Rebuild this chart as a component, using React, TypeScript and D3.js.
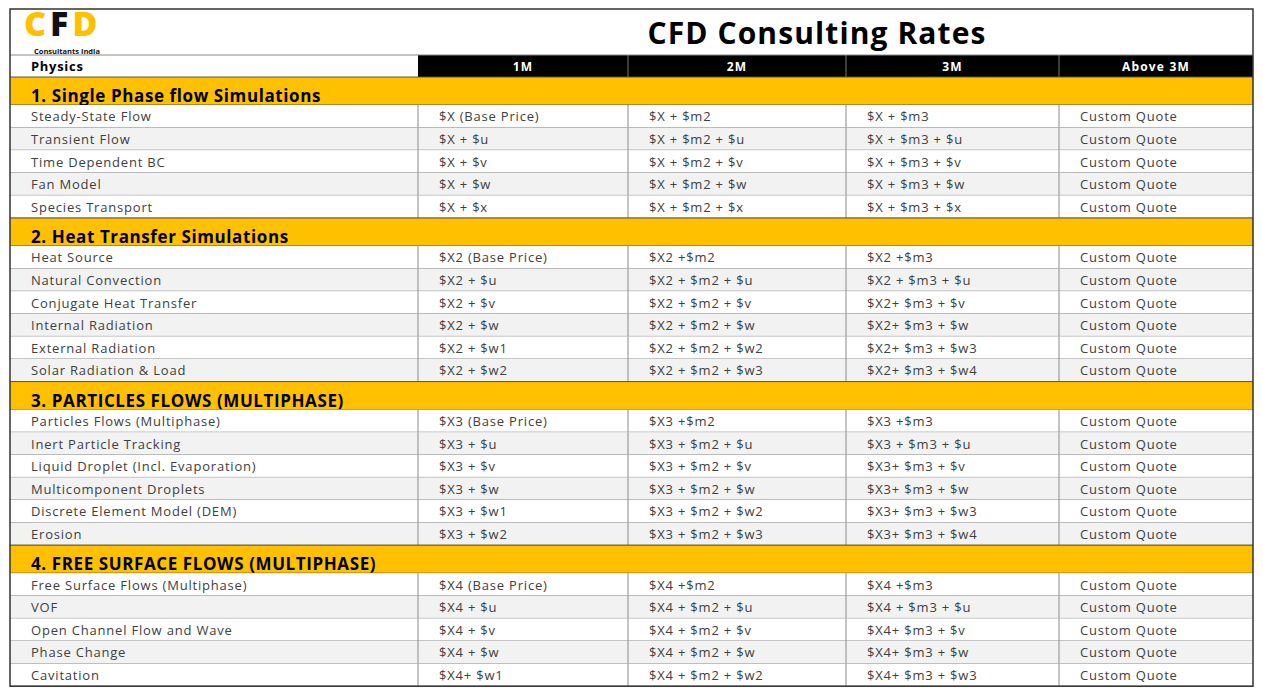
import React from "react";
import * as d3 from "d3";

const title = "CFD Consulting Rates";
const columns = ["Physics", "1M", "2M", "3M", "Above 3M"];

const sections = [
  "1. Single Phase flow Simulations",
  "2. Heat Transfer Simulations",
  "3. PARTICLES FLOWS (MULTIPHASE)",
  "4. FREE SURFACE FLOWS (MULTIPHASE)",
];

const sec1 = [
  ["Steady-State Flow", "$X (Base Price)", "$X + $m2", "$X + $m3", "Custom Quote"],
  ["Transient Flow", "$X + $u", "$X + $m2 + $u", "$X + $m3 + $u", "Custom Quote"],
  ["Time Dependent BC", "$X + $v", "$X + $m2 + $v", "$X + $m3 + $v", "Custom Quote"],
  ["Fan Model", "$X + $w", "$X + $m2 + $w", "$X + $m3 + $w", "Custom Quote"],
  ["Species Transport", "$X + $x", "$X + $m2 + $x", "$X + $m3 + $x", "Custom Quote"],
];
const sec2 = [
  ["Heat Source", "$X2 (Base Price)", "$X2 +$m2", "$X2 +$m3", "Custom Quote"],
  ["Natural Convection", "$X2 + $u", "$X2 + $m2 + $u", "$X2 + $m3 + $u", "Custom Quote"],
  ["Conjugate Heat Transfer", "$X2 + $v", "$X2 + $m2 + $v", "$X2+ $m3 + $v", "Custom Quote"],
  ["Internal Radiation", "$X2 + $w", "$X2 + $m2 + $w", "$X2+ $m3 + $w", "Custom Quote"],
  ["External Radiation", "$X2 + $w1", "$X2 + $m2 + $w2", "$X2+ $m3 + $w3", "Custom Quote"],
  ["Solar Radiation & Load", "$X2 + $w2", "$X2 + $m2 + $w3", "$X2+ $m3 + $w4", "Custom Quote"],
];
const sec3 = [
  ["Particles Flows (Multiphase)", "$X3 (Base Price)", "$X3 +$m2", "$X3 +$m3", "Custom Quote"],
  ["Inert Particle Tracking", "$X3 + $u", "$X3 + $m2 + $u", "$X3 + $m3 + $u", "Custom Quote"],
  ["Liquid Droplet (Incl. Evaporation)", "$X3 + $v", "$X3 + $m2 + $v", "$X3+ $m3 + $v", "Custom Quote"],
  ["Multicomponent Droplets", "$X3 + $w", "$X3 + $m2 + $w", "$X3+ $m3 + $w", "Custom Quote"],
  ["Discrete Element Model (DEM)", "$X3 + $w1", "$X3 + $m2 + $w2", "$X3+ $m3 + $w3", "Custom Quote"],
  ["Erosion", "$X3 + $w2", "$X3 + $m2 + $w3", "$X3+ $m3 + $w4", "Custom Quote"],
];
const sec4 = [
  ["Free Surface Flows (Multiphase)", "$X4 (Base Price)", "$X4 +$m2", "$X4 +$m3", "Custom Quote"],
  ["VOF", "$X4 + $u", "$X4 + $m2 + $u", "$X4 + $m3 + $u", "Custom Quote"],
  ["Open Channel Flow and Wave", "$X4 + $v", "$X4 + $m2 + $v", "$X4+ $m3 + $v", "Custom Quote"],
  ["Phase Change", "$X4 + $w", "$X4 + $m2 + $w", "$X4+ $m3 + $w", "Custom Quote"],
  ["Cavitation", "$X4+ $w1", "$X4 + $m2 + $w2", "$X4+ $m3 + $w3", "Custom Quote"],
];
const sectionRows = [sec1, sec2, sec3, sec4];

// layout
const W = 1263, H = 700;
const left = 10, right = 1253, top = 9;
const titleH = 46, headH = 22;
const secH = 28, rowH = 22.6;
const colWeights = [408, 210, 218, 213, 194];
const gold = "#FFC000";
const font = "'Open Sans', 'DejaVu Sans', sans-serif";

export default function App() {
  const edges = [left];
  colWeights.forEach((w) => edges.push(edges[edges.length - 1] + w));
  const xs = d3.scaleLinear().domain([left, edges[edges.length - 1]]).range([left, right]);
  const colX = edges.map((e) => xs(e));

  type Item = { kind: "sec" | "row"; label?: string; cells?: string[]; alt?: boolean; y: number; h: number };
  const items: Item[] = [];
  let y = top + titleH + headH;
  sections.forEach((s, i) => {
    items.push({ kind: "sec", label: s, y, h: secH });
    y += secH;
    sectionRows[i].forEach((r, j) => {
      items.push({ kind: "row", cells: r, alt: j % 2 === 1, y, h: rowH });
      y += rowH;
    });
  });
  const bottom = y;

  return (
    <svg width={W} height={H} style={{ display: "block", position: "absolute", left: 0, top: 0, background: "#fff" }}>
      <rect x={0} y={0} width={W} height={H} fill="#fff" />
      {/* logo */}
      <text x={24} y={36} fontFamily={font} fontWeight={800} fontSize={34} letterSpacing={4}>
        <tspan fill={gold}>C</tspan>
        <tspan fill="#111">F</tspan>
        <tspan fill={gold}>D</tspan>
      </text>
      <text x={34} y={54} fontFamily={font} fontWeight={700} fontSize={7.5} fill="#111">Consultants India</text>
      {/* title */}
      <text x={817} y={44} textAnchor="middle" fontFamily={font} fontWeight={700} fontSize={30} letterSpacing={1.1} fill="#000">{title}</text>

      {/* header row */}
      <rect x={colX[1]} y={top + titleH} width={right - colX[1]} height={headH} fill="#000" />
      {columns.map((c, i) =>
        i === 0 ? (
          <text key={c} x={colX[0] + 21} y={top + titleH + headH / 2 + 4.5} fontFamily={font} fontWeight={700} fontSize={13} letterSpacing={0.7} fill="#000">{c}</text>
        ) : (
          <text key={c} x={(colX[i] + colX[i + 1]) / 2} y={top + titleH + headH / 2 + 4.5} textAnchor="middle" fontFamily={font} fontWeight={700} fontSize={12} letterSpacing={1.2} fill="#fff">{c}</text>
        )
      )}
      {columns.slice(2).map((c, k) => (
        <line key={"hv" + c} x1={colX[k + 2]} x2={colX[k + 2]} y1={top + titleH} y2={top + titleH + headH} stroke="#777" strokeWidth={1} />
      ))}
      <line x1={left} x2={right} y1={top + titleH} y2={top + titleH} stroke="#888" strokeWidth={1} />

      {/* body */}
      {items.map((it, idx) =>
        it.kind === "sec" ? (
          <g key={idx}>
            <rect x={left} y={it.y} width={right - left} height={it.h} fill={gold} />
            <line x1={left} x2={right} y1={it.y} y2={it.y} stroke="#555" strokeWidth={1} />
            <line x1={left} x2={right} y1={it.y + it.h} y2={it.y + it.h} stroke="#555" strokeWidth={1} />
            <text x={colX[0] + 21} y={it.y + it.h - 3} fontFamily={font} fontWeight={700} fontSize={17} letterSpacing={0.6} fill="#000">{it.label}</text>
          </g>
        ) : (
          <g key={idx}>
            <rect x={left} y={it.y} width={right - left} height={it.h} fill={it.alt ? "#F2F2F2" : "#fff"} />
            <line x1={left} x2={right} y1={it.y + it.h} y2={it.y + it.h} stroke="#8a8a8a" strokeWidth={1} />
            {colX.slice(1, -1).map((cx, k) => (
              <line key={k} x1={cx} x2={cx} y1={it.y} y2={it.y + it.h} stroke="#8a8a8a" strokeWidth={1} />
            ))}
            {it.cells!.map((c, k) => (
              <text key={k} x={colX[k] + 21} y={it.y + it.h / 2 + 5} fontFamily={font} fontSize={13} letterSpacing={0.8} fill="#404040">{c}</text>
            ))}
          </g>
        )
      )}

      {/* outer border */}
      <rect x={left} y={top} width={right - left} height={bottom - top} fill="none" stroke="#333" strokeWidth={1.5} />
    </svg>
  );
}
